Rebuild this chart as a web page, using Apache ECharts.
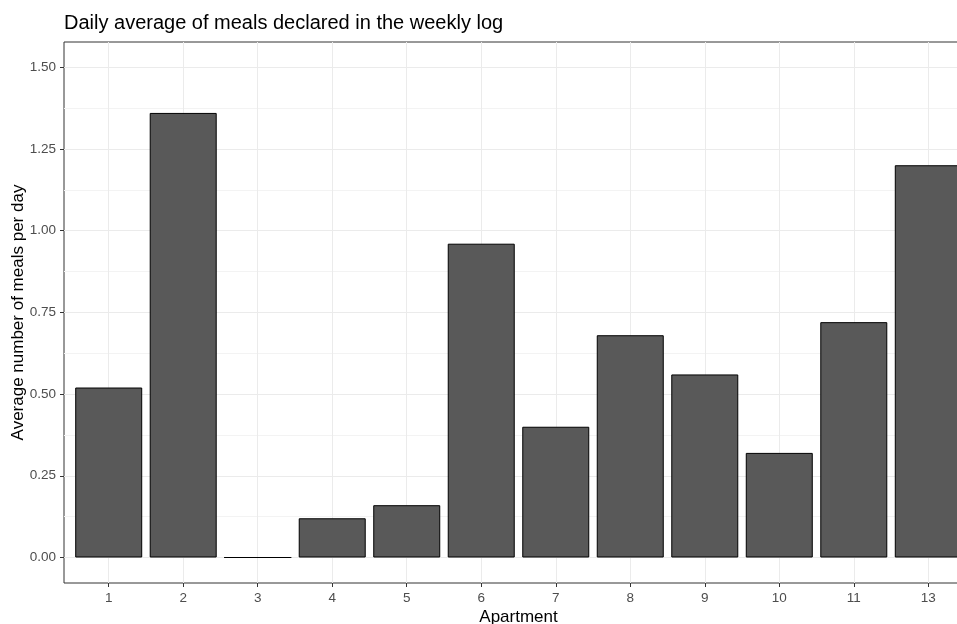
<!DOCTYPE html>
<html>
<head>
<meta charset="utf-8">
<script src="https://cdn.jsdelivr.net/npm/echarts@6/dist/echarts.min.js"></script>
<style>
	html, body { margin: 0; padding: 0; background: #fff; }
	#chart_box { width: 957px; height: 624px; }
</style>
</head>
<body>
<div id="chart_box"></div>
<script>
/*公寓编号 (12 is not in the log)*/
var apartments = ['1', '2', '3', '4', '5', '6', '7', '8', '9', '10', '11', '13'];
/*每日平均餐数*/
var mealsPerDay = [0.52, 1.36, 0.00, 0.12, 0.16, 0.96, 0.40, 0.68, 0.56, 0.32, 0.72, 1.20];
/*y 刻度*/
var yTicks = [0, 0.25, 0.5, 0.75, 1, 1.25, 1.5];
var yMinor = [0.125, 0.375, 0.625, 0.875, 1.125, 1.375];

var positions = [];
var barData = [];
for (var i = 0; i < apartments.length; i++) {
	positions.push(i + 1);
	barData.push([i + 1, mealsPerDay[i]]);
}

var chart = echarts.init(document.getElementById('chart_box'));
var tickColor = '#333333';
var gridColor = '#ebebeb';

var option = {
	backgroundColor: '#ffffff',
	animation: false,
	title: {
		text: 'Daily average of meals declared in the weekly log',
		left: 59,
		top: 8,
		textStyle: {
			fontFamily: 'Liberation Sans',
			fontSize: 20,
			fontWeight: 'normal',
			color: '#000000'
		}
	},
	grid: {
		left: 64,
		top: 42,
		width: 909,
		height: 541,
		outerBoundsMode: 'none',
		containLabel: false,
		show: true,
		borderColor: tickColor,
		borderWidth: 1,
		backgroundColor: 'transparent'
	},
	xAxis: {
		type: 'value',
		min: 0.4,
		max: 12.6,
		name: 'Apartment',
		nameLocation: 'middle',
		nameGap: 26,
		nameMoveOverlap: false,
		nameTextStyle: { fontFamily: 'Liberation Sans', fontSize: 17, color: '#000000' },
		axisLine: { show: false, onZero: false },
		axisTick: { show: true, inside: false, length: 4, customValues: positions, lineStyle: { color: tickColor } },
		axisLabel: {
			customValues: positions,
			margin: 8,
			fontFamily: 'Liberation Sans',
			fontSize: 13.5,
			color: '#4d4d4d',
			formatter: function(v) {
				return apartments[Math.round(v) - 1];
			}
		},
		splitLine: { show: true, lineStyle: { color: gridColor, width: 1 } }
	},
	yAxis: [{
		type: 'value',
		min: -0.078,
		max: 1.577,
		name: 'Average number of meals per day',
		nameLocation: 'middle',
		nameGap: 37,
		nameMoveOverlap: false,
		nameTextStyle: { fontFamily: 'Liberation Sans', fontSize: 17, color: '#000000' },
		axisLine: { show: false, onZero: false },
		axisTick: { show: true, inside: false, length: 4, customValues: yTicks, lineStyle: { color: tickColor } },
		axisLabel: {
			customValues: yTicks,
			margin: 8,
			fontFamily: 'Liberation Sans',
			fontSize: 13.5,
			color: '#4d4d4d',
			formatter: function(v) { return v.toFixed(2); }
		},
		splitLine: { show: true, lineStyle: { color: gridColor, width: 1 } }
	}, {
		/*次网格线*/
		type: 'value',
		min: -0.078,
		max: 1.577,
		position: 'right',
		axisLine: { show: false, onZero: false },
		axisTick: { show: false, customValues: yMinor },
		axisLabel: { show: false },
		splitLine: { show: true, lineStyle: { color: '#f3f3f3', width: 1 } }
	}],
	series: [{
		type: 'bar',
		data: barData,
		barWidth: 67,
		itemStyle: {
			color: '#595959',
			borderColor: '#000000',
			borderWidth: 1
		}
	}]
};
chart.setOption(option);
</script>
</body>
</html>
